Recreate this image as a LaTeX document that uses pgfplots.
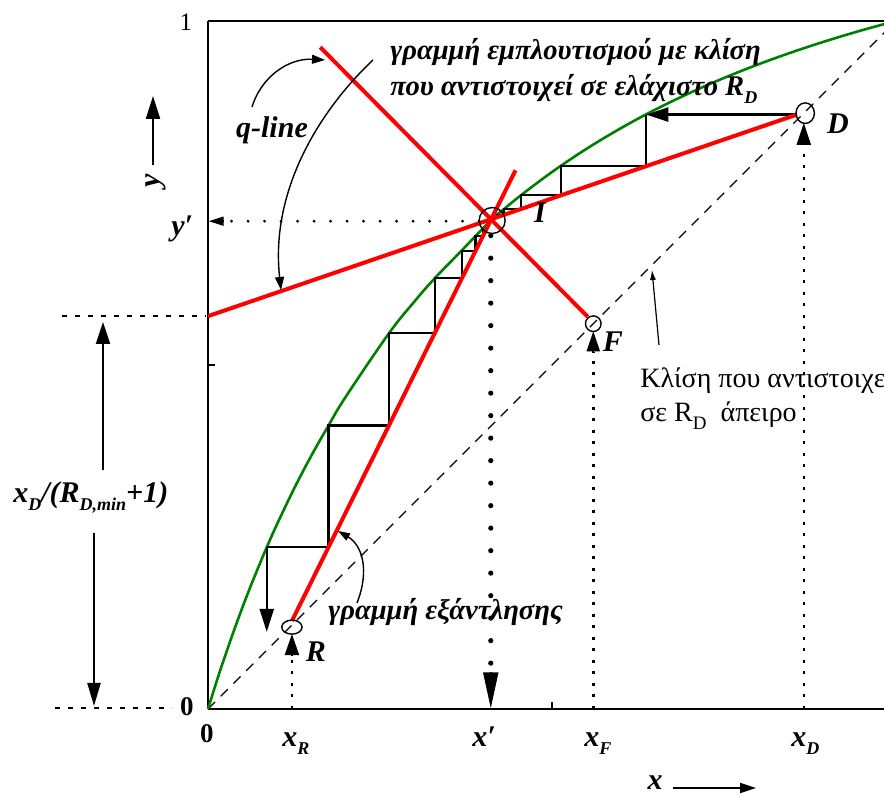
\documentclass[border=0pt]{standalone}
\usepackage{fontspec}
\setmainfont{Liberation Serif}
\usepackage{pgfplots}
\pgfplotsset{compat=1.18}
\usetikzlibrary{arrows.meta}
\definecolor{eqgreen}{RGB}{0,128,0}
\definecolor{opred}{RGB}{255,0,0}
\newcommand{\sub}[1]{\raisebox{-0.55ex}{\fontsize{9}{9}\selectfont #1}}

\begin{document}
\begin{tikzpicture}
\begin{axis}[
  x=344pt, y=344pt, xmin=0, xmax=1, ymin=0, ymax=1,
  axis lines*=left, axis line style={line width=1.3pt, black},
  xtick={0.5}, ytick={0.5}, xticklabels={}, yticklabels={},
  tick align=inside, major tick length=3.5pt,
  tick style={line width=0.9pt, black},
  clip=false,
]
\coordinate (TL) at (axis cs:-0.302326,1.030523);
\coordinate (BR) at (axis cs:0.982558,-0.127907);
\draw[line width=1.3pt] (axis cs:0,1) -- (axis cs:1,1);

% diagonal y = x
\addplot[black, line width=0.6pt, dash pattern=on 5pt off 4pt] coordinates {(0,0) (1,1)};

% equilibrium curve
\addplot[eqgreen, line width=1.3pt, smooth, tension=0.6] coordinates {
(0,0) (0.01,0.0321) (0.02,0.0628) (0.035,0.1064) (0.05,0.1475) (0.065,0.1860)
(0.084,0.2318) (0.1,0.2678) (0.125,0.3200) (0.15,0.3678) (0.1751,0.4119)
(0.2,0.4535) (0.2629,0.5459) (0.3,0.5922) (0.3294,0.6258) (0.3691,0.6668)
(0.411,0.7101) (0.43,0.7264) (0.455,0.7468) (0.5,0.7805) (0.55,0.8141)
(0.6,0.8441) (0.65,0.8711) (0.7,0.8953) (0.75,0.9172) (0.8,0.9370)
(0.85,0.9550) (0.9,0.9714) (0.95,0.9864) (0.985,0.9960)};

% stairs - rectifying section
\addplot[black, line width=1.1pt, -{Triangle[length=11pt,width=7pt]}] coordinates {(0.855,0.864) (0.637,0.864)};
\addplot[black, line width=1.1pt] coordinates {(0.637,0.864) (0.637,0.789) (0.5127,0.789) (0.5127,0.7465) (0.4547,0.7465) (0.4547,0.7266) (0.4302,0.7266) (0.4302,0.7183) (0.4206,0.7183) (0.4206,0.715)};
% stairs - stripping section
\addplot[black, line width=1.1pt] coordinates {(0.3994,0.698) (0.3994,0.687) (0.3889,0.687) (0.3889,0.666) (0.3691,0.666) (0.3691,0.626) (0.3294,0.626) (0.3294,0.546) (0.2629,0.546) (0.2629,0.412) (0.1751,0.412) (0.1751,0.235) (0.0854,0.235)};
\addplot[black, line width=1.1pt, -{Triangle[length=11.5pt,width=7pt]}] coordinates {(0.0854,0.235) (0.0854,0.112)};

% operating lines
\addplot[opred, line width=2pt] coordinates {(0,0.571) (0.856,0.864)};
\addplot[opred, line width=2pt] coordinates {(0.163,0.962) (0.552,0.570)};
\addplot[opred, line width=2pt] coordinates {(0.122,0.128) (0.447,0.783)};

% guide lines
\addplot[black, line width=1.3pt, dash pattern=on 1.5pt off 4.25pt] coordinates {(0.122,0) (0.122,0.0785)};
\addplot[black, line width=1.3pt, dash pattern=on 1.5pt off 4.25pt] coordinates {(0.560,0) (0.560,0.519)};
\addplot[black, line width=1.3pt, dash pattern=on 1.5pt off 4.25pt] coordinates {(0.866,0) (0.866,0.821)};
\addplot[black, line width=2.6pt, line cap=round, dash pattern=on 0pt off 11.25pt] coordinates {(0.411,0.688) (0.411,0.06)};
\addplot[black, line width=1pt, -{Triangle[length=18pt,width=7.5pt]}] coordinates {(0.411,0.054) (0.411,0.001)};
\addplot[black, line width=1.6pt, line cap=round, dash pattern=on 0pt off 8.25pt] coordinates {(0.394,0.709) (0.025,0.709)};
\addplot[black, line width=0.8pt, -{Triangle[length=7.5pt,width=4.5pt]}] coordinates {(0.022,0.709) (0.001,0.709)};

% arrows pointing at the feed points
\addplot[black, line width=1pt, -{Triangle[length=10.5pt,width=7pt]}] coordinates {(0.122,0.0785) (0.122,0.109)};
\addplot[black, line width=1pt, -{Triangle[length=10pt,width=6.5pt]}] coordinates {(0.560,0.519) (0.560,0.549)};
\addplot[black, line width=1pt, -{Triangle[length=11pt,width=7pt]}] coordinates {(0.866,0.821) (0.866,0.852)};

% circles
\addplot[only marks, mark=o, mark size=6.5pt, mark options={black, line width=0.7pt}] coordinates {(0.413,0.710)};
\addplot[only marks, mark=o, mark size=4.6pt, mark options={black, line width=0.7pt, yscale=1.12}] coordinates {(0.868,0.866)};
\addplot[only marks, mark=o, mark size=3.9pt, mark options={black, line width=0.7pt}] coordinates {(0.560,0.560)};
\addplot[only marks, mark=o, mark size=3.5pt, mark options={black, line width=0.7pt, xscale=1.45}] coordinates {(0.122,0.119)};
\end{axis}

\begin{scope}[shift={(TL)}, x=0.5pt, y=-0.5pt,
  every node/.append style={inner sep=0pt, font=\fontsize{15}{17}\selectfont\bfseries\itshape}]
% axis arrows and titles
\draw[line width=1.1pt, -{Triangle[length=11.5pt,width=7pt]}] (153,165) -- (153,96);
\node[rotate=90] at (156,181) {y};
\node at (655,783) {x};
\draw[line width=1pt, -{Triangle[length=8pt,width=5pt]}] (673,788) -- (756,788);
% tick-like labels
\node[font=\fontsize{12.5}{12.5}\selectfont] at (186,22) {1};
\node[font=\fontsize{13.5}{13.5}\selectfont\bfseries] at (187,707) {0};
\node[font=\fontsize{13.5}{13.5}\selectfont\bfseries] at (207,734) {0};
\node[anchor=base west] at (171,236) {y′};
\node[anchor=base west] at (282,747) {x\sub{R}};
\node[anchor=base west] at (472,747) {x′};
\node[anchor=base west] at (584,747) {x\sub{F}};
\node[anchor=base west] at (791,747) {x\sub{D}};
% point labels
\node at (838,124) {D};
\node at (540,213) {I};
\node at (613,342) {F};
\node at (316,652) {R};
% left annotation
\draw[line width=1pt, dash pattern=on 2.5pt off 4pt] (62,316) -- (206,316);
\draw[line width=1pt, dash pattern=on 2.5pt off 4pt] (55,708) -- (172,708);
\draw[line width=1.1pt, -{Triangle[length=11pt,width=7pt]}] (103,470) -- (103,322);
\draw[line width=1.1pt, -{Triangle[length=11.5pt,width=6.5pt]}] (94,533) -- (94,706);
\node[anchor=base west] at (13,503) {x\sub{D}/(R\sub{D,min}+1)};
% texts
\node[anchor=base west, font=\fontsize{14.3}{16}\selectfont\bfseries\itshape] at (390,60) {γραμμή εμπλουτισμού με κλίση};
\node[anchor=base west, font=\fontsize{14.3}{16}\selectfont\bfseries\itshape] at (390,96) {που αντιστοιχεί σε ελάχιστο R\sub{D}};
\node at (272,130) {q-line};
\node[anchor=base west, font=\fontsize{14.3}{16}\selectfont\bfseries\itshape] at (328,620) {γραμμή εξάντλησης};
\node[anchor=base west, font=\fontsize{14}{17}\selectfont] at (640,388) {Κλίση που αντιστοιχεί};
\node[anchor=base west, font=\fontsize{14}{17}\selectfont] at (640,422) {σε R\raisebox{-0.55ex}{\fontsize{9.5}{10}\selectfont D}\ \ άπειρο};
% pointer arrows
\draw[line width=0.7pt, -{Triangle[length=6.5pt,width=4.5pt]}] (252,107) .. controls (262,75) and (290,58) .. (325,60);
\draw[line width=0.7pt, -{Triangle[length=6.5pt,width=4.5pt]}] (373,60) .. controls (320,110) and (270,190) .. (281,290);
\draw[line width=0.7pt, -{Triangle[length=6pt,width=4pt]}] (357,603) .. controls (370,570) and (362,545) .. (338,531);
\draw[line width=0.6pt, -{Latex[length=5pt,width=3pt]}] (659,345) -- (652,270);
\end{scope}

\pgfresetboundingbox
\path[use as bounding box] (TL) rectangle (BR);
\end{tikzpicture}
\end{document}
